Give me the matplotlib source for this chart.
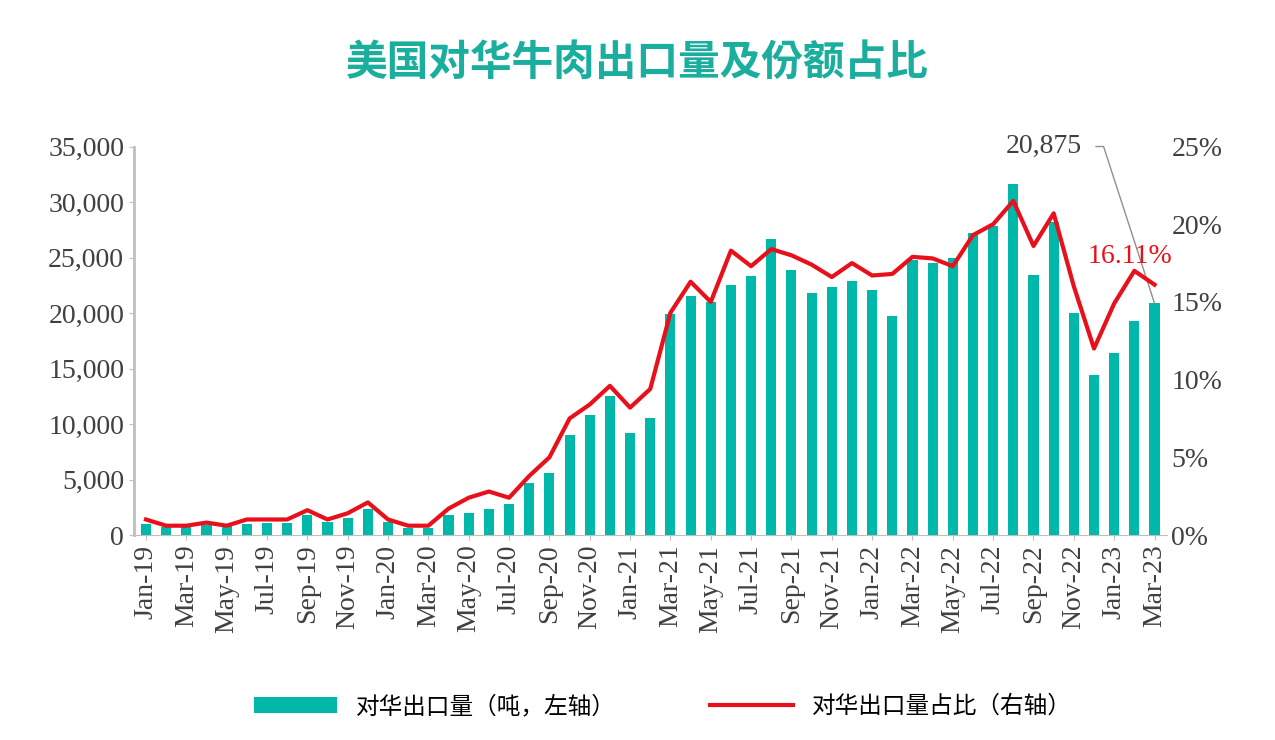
import matplotlib
matplotlib.use("Agg")
import matplotlib.pyplot as plt
from matplotlib.ticker import FuncFormatter
import pandas as pd

MONTHS = [d.strftime("%b-%y") for d in pd.date_range("2019-01-01", "2023-03-01", freq="MS")]
VOLUME = [1000, 700, 700, 900, 800, 1000, 1100, 1100, 1800, 1200, 1500, 2300,
          1200, 600, 600, 1800, 2000, 2300, 2800, 4700, 5600, 9000, 10800, 12500,
          9200, 10500, 19900, 21500, 21000, 22500, 23300, 26700, 23900, 21800, 22300, 22900,
          22100, 19700, 24800, 24500, 25000, 27200, 27800, 31600, 23400, 28200, 20000, 14400,
          16400, 19300, 20875]
SHARE = [1.0, 0.6, 0.6, 0.8, 0.6, 1.0, 1.0, 1.0, 1.6, 1.0, 1.4, 2.1,
         1.0, 0.6, 0.6, 1.7, 2.4, 2.8, 2.4, 3.8, 5.0, 7.5, 8.4, 9.6,
         8.2, 9.4, 14.3, 16.3, 15.0, 18.3, 17.3, 18.4, 18.0, 17.4, 16.6, 17.5,
         16.7, 16.8, 17.9, 17.8, 17.3, 19.3, 20.0, 21.5, 18.6, 20.7, 16.0, 12.0,
         14.9, 17.0, 16.11]

CJK = ["Noto Sans CJK SC", "Noto Sans CJK JP", "Noto Sans CJK TC", "Noto Sans CJK KR", "DejaVu Sans"]
SERIF = "Liberation Serif"
TEAL = "#00B8A9"
RED = "#E8101A"

fig = plt.figure(figsize=(12.75, 7.4), dpi=100)
ax = fig.add_axes([0.105, 0.277, 0.81, 0.525])
x = range(len(MONTHS))
bars = ax.bar(x, VOLUME, width=0.5, color=TEAL, label="对华出口量（吨，左轴）")
ax.set_ylim(0, 35000)
ax.set_xlim(-0.6, len(MONTHS) - 0.4)
ax.set_yticks(range(0, 35001, 5000))
ax.yaxis.set_major_formatter(FuncFormatter(lambda v, p: f"{v:,.0f}"))
ax.set_xticks(list(x)[::2])
ax.set_xticklabels(MONTHS[::2], rotation=90, fontfamily=SERIF, fontsize=20, color="#404040")
for t in ax.get_yticklabels():
    t.set_fontfamily(SERIF); t.set_fontsize(20); t.set_color("#404040")
for s in ("top", "right"):
    ax.spines[s].set_visible(False)
ax.spines["left"].set_color("#BFBFBF")
ax.spines["bottom"].set_color("#BFBFBF")
ax.spines["left"].set_linewidth(2)
ax.tick_params(colors="#BFBFBF", labelcolor="#404040")

ax2 = ax.twinx()
line, = ax2.plot(x, SHARE, color=RED, lw=3, label="对华出口量占比（右轴）")
ax2.set_ylim(0, 25)
ax2.set_yticks(range(0, 26, 5))
ax2.yaxis.set_major_formatter(FuncFormatter(lambda v, p: f"{v:.0f}%"))
for t in ax2.get_yticklabels():
    t.set_fontfamily(SERIF); t.set_fontsize(20); t.set_color("#404040")
for s in ("top", "right", "left", "bottom"):
    ax2.spines[s].set_visible(False)
ax2.tick_params(length=0)

last = len(MONTHS) - 1
ax.annotate(f"{VOLUME[-1]:,}", xy=(last, VOLUME[-1]), xytext=(last - 3.6, 35000),
            fontfamily=SERIF, fontsize=20, color="#404040", ha="right", va="center",
            arrowprops=dict(arrowstyle="-", color="#909090", lw=1, relpos=(1.0, 0.5),
                            shrinkA=8, shrinkB=0,
                            connectionstyle="angle,angleA=0,angleB=108,rad=0"))
ax2.text(last + 0.9, SHARE[-1] + 1.0, f"{SHARE[-1]:.2f}%", color=RED, fontfamily=SERIF,
         fontsize=20, ha="right", va="bottom")

fig.text(0.5, 0.915, "美国对华牛肉出口量及份额占比", fontfamily=CJK, fontsize=30,
         fontweight="bold", color="#1AAE9F", ha="center", va="center")
fig.legend(handles=[bars, line], loc="center", bbox_to_anchor=(0.52, 0.045), ncol=2,
           frameon=False, prop={"family": CJK, "size": 17}, handlelength=3.5,
           columnspacing=4)
fig.savefig("out.png")
